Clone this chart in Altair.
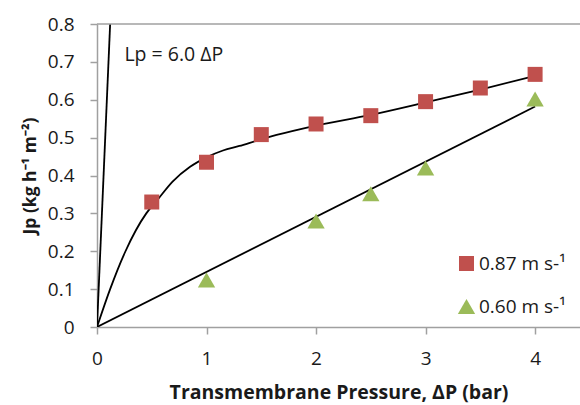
import altair as alt
import pandas as pd

# ---- data ----
x_ticks = [0, 1, 2, 3, 4]
y_ticks = [0, 0.1, 0.2, 0.3, 0.4, 0.5, 0.6, 0.7, 0.8]

series_names = ["0.87 m s-¹", "0.60 m s-¹"]
series_colors = ["#C0504D", "#9BBB59"]
series_shapes = ["square", "triangle-up"]
series_sizes = [225, 300]

p_087 = [0.5, 1.0, 1.5, 2.0, 2.5, 3.0, 3.5, 4.0]
j_087 = [0.33, 0.435, 0.508, 0.536, 0.558, 0.595, 0.631, 0.667]

p_060 = [1.0, 2.0, 2.5, 3.0, 4.0]
j_060 = [0.124, 0.28, 0.352, 0.42, 0.602]

# fitted curve for 0.87 m/s
fit087_p = [0, 0.12, 0.26, 0.45, 0.55, 0.69, 0.85, 1.0, 1.15, 1.3, 1.46, 1.64, 2.0, 2.5, 3.0, 3.5, 4.0]
fit087_j = [0, 0.1, 0.2, 0.3, 0.335, 0.384, 0.423, 0.448, 0.466, 0.478, 0.492, 0.507, 0.532, 0.56, 0.593, 0.627, 0.663]

# straight fit for 0.60 m/s
fit060_p = [0, 4.0]
fit060_j = [0, 0.582]

# pure water line Lp = 6.0 dP
lp_p = [0, 0.12]
lp_j = [0, 0.8]

annotation = "Lp = 6.0 ΔP"
x_title = "Transmembrane Pressure, ΔP (bar)"
y_title = "Jp (kg h⁻¹ m⁻²)"

# ---- tables ----
pts = pd.DataFrame({
    "P": p_087 + p_060,
    "J": j_087 + j_060,
    "series": [series_names[0]] * len(p_087) + [series_names[1]] * len(p_060),
})
lines = pd.DataFrame({
    "P": fit087_p + fit060_p + lp_p,
    "J": fit087_j + fit060_j + lp_j,
    "line": ["a"] * len(fit087_p) + ["b"] * len(fit060_p) + ["c"] * len(lp_p),
})

FONT = "Open Sans"
GREY = "#a0a0a0"
TXT = "#1a1a1a"

xscale = alt.Scale(domain=[0, 4.41], nice=False, zero=False)
yscale = alt.Scale(domain=[0, 0.8], nice=False)

xaxis = alt.Axis(values=x_ticks, format="d", title=x_title, grid=False,
                 domainColor=GREY, domainWidth=1.5, tickColor=GREY, tickWidth=1.5,
                 tickSize=7, labelFontSize=19, labelFont=FONT, labelColor=TXT,
                 labelPadding=15, labelFlush=False, labelOverlap=False,
                 titleFont=FONT, titleFontSize=19.5, titleFontWeight="bold",
                 titleColor=TXT, titlePadding=15)
yaxis = alt.Axis(values=y_ticks, labelExpr="datum.value == 0 ? '0' : format(datum.value, '.1f')",
                 title=y_title, grid=False,
                 domainColor=GREY, domainWidth=1.5, tickColor=GREY, tickWidth=1.5,
                 tickSize=7, labelFontSize=19, labelFont=FONT, labelColor=TXT,
                 labelPadding=16, labelFlush=False, labelOverlap=False,
                 titleFont=FONT, titleFontSize=17.5, titleFontWeight="bold",
                 titleColor=TXT, titlePadding=8)

X = alt.X("P:Q", scale=xscale, axis=xaxis)
Y = alt.Y("J:Q", scale=yscale, axis=yaxis)

line_layer = alt.Chart(lines).mark_line(color="black", strokeWidth=1.8, interpolate="monotone", clip=True).encode(
    x=X, y=Y, detail="line:N",
)

leg = alt.Legend(title=None, orient="none", legendX=360, legendY=230)
point_layer = alt.Chart(pts).mark_point(filled=True, opacity=1).encode(
    x=X, y=Y,
    color=alt.Color("series:N", scale=alt.Scale(domain=series_names, range=series_colors), legend=leg),
    shape=alt.Shape("series:N", scale=alt.Scale(domain=series_names, range=series_shapes), legend=leg),
    size=alt.Size("series:N", scale=alt.Scale(domain=series_names, range=series_sizes), legend=leg),
)

top_rule = alt.Chart(pd.DataFrame({"J": [0.8]})).mark_rule(color=GREY, strokeWidth=1.5).encode(y=Y)

text_layer = alt.Chart(pd.DataFrame({"P": [0.25], "J": [0.719], "t": [annotation]})).mark_text(
    align="left", baseline="middle", font=FONT, fontSize=19.5, color=TXT
).encode(x=X, y=Y, text="t:N")

chart = alt.layer(line_layer, top_rule, point_layer, text_layer).properties(
    width=483, height=303,
    padding={"left": 97, "top": 24, "right": 0, "bottom": 78},
    autosize="none",
).configure_view(stroke=None).configure_legend(
    labelFont=FONT, labelFontSize=19, labelColor=TXT,
    symbolStrokeWidth=0, rowPadding=23, padding=0, labelOffset=3, symbolOpacity=1,
)

chart.save("out.html", embed_options={"renderer": "svg", "actions": False})
